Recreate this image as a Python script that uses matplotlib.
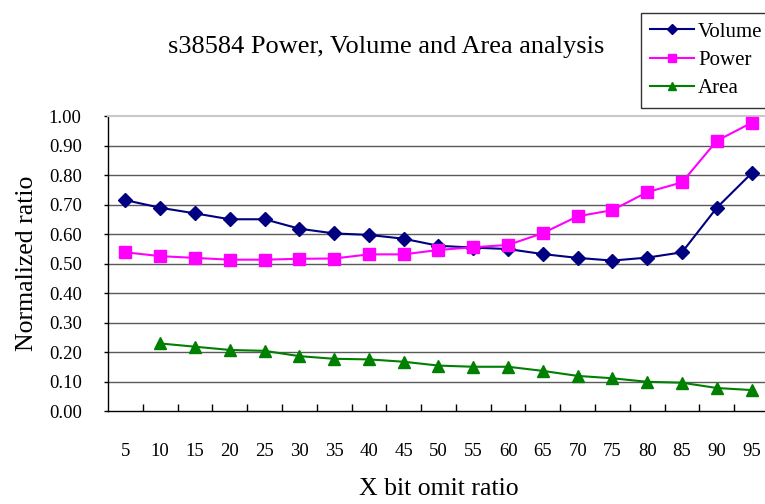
import numpy as np
import matplotlib
matplotlib.use("Agg")
import matplotlib.pyplot as plt
from matplotlib.ticker import FixedLocator, NullFormatter

categories = ["5", "10", "15", "20", "25", "30", "35", "40", "45", "50",
              "55", "60", "65", "70", "75", "80", "85", "90", "95"]
volume = [0.715, 0.689, 0.670, 0.650, 0.650, 0.618, 0.602, 0.597, 0.584, 0.560,
          0.554, 0.549, 0.532, 0.519, 0.510, 0.520, 0.538, 0.689, 0.806]
power = [0.538, 0.525, 0.519, 0.513, 0.513, 0.516, 0.517, 0.531, 0.531, 0.546,
         0.555, 0.563, 0.603, 0.660, 0.681, 0.742, 0.775, 0.916, 0.977]
area = [np.nan, 0.229, 0.218, 0.207, 0.204, 0.186, 0.177, 0.175, 0.167, 0.154,
        0.150, 0.150, 0.136, 0.119, 0.111, 0.099, 0.096, 0.078, 0.071]
ytick_labels = ["0.00", "0.10", "0.20", "0.30", "0.40", "0.50",
                "0.60", "0.70", "0.80", "0.90", "1.00"]

plt.rcParams['font.family'] = ['Liberation Serif', 'DejaVu Serif']

fig = plt.figure(figsize=(7.65, 5.04), dpi=100)
ax = fig.add_axes([0.1412, 0.1845, 0.8640, 0.5853])

n = len(categories)
x = np.arange(n) + 0.5

ax.plot(x, volume, color='#000080', marker='D', markersize=7, lw=1.5, label='Volume', clip_on=False, zorder=3)
ax.plot(x, power, color='#FF00FF', marker='s', markersize=8, lw=1.5, label='Power', clip_on=False, zorder=3)
ax.plot(x, area, color='#008000', marker='^', markersize=8, lw=1.5, label='Area', clip_on=False, zorder=3)

ax.set_xlim(0, n)
ax.set_ylim(0, 1.0)

yvals = [float(s) for s in ytick_labels]
ax.set_yticks(yvals)
ax.set_yticklabels(ytick_labels, fontsize=13.5)
for yv in yvals[1:-1]:
    ax.axhline(yv, color='#5a5a5a', lw=1, zorder=1)

ax.xaxis.set_major_locator(FixedLocator(x))
ax.set_xticklabels(categories, fontsize=13.5)
ax.tick_params(axis='x', which='major', length=0, pad=23)
ax.xaxis.set_minor_locator(FixedLocator(np.arange(1, n)))
ax.xaxis.set_minor_formatter(NullFormatter())
ax.tick_params(axis='x', which='minor', direction='in', length=5, width=1, color='black')
ax.tick_params(axis='y', direction='out', length=3, width=1, pad=16)

for s in ['left', 'bottom']:
    ax.spines[s].set_color('black')
    ax.spines[s].set_linewidth(1)
ax.spines['right'].set_visible(False)
ax.spines['top'].set_color('#c8c8c8')
ax.spines['top'].set_linewidth(1.5)

ax.set_ylabel('Normalized ratio', fontsize=18.5, labelpad=8)
ax.set_xlabel('X bit omit ratio', fontsize=18.5, labelpad=13)
fig.text(0.505, 0.907, 's38584 Power, Volume and Area analysis', fontsize=19,
         ha='center', va='center')

leg = fig.legend(loc='upper left', bbox_to_anchor=(0.8375, 0.975), fontsize=15,
                 frameon=True, fancybox=False, edgecolor='black',
                 borderpad=0.45, labelspacing=0.42, handlelength=2.1,
                 handletextpad=0.2, borderaxespad=0, markerscale=0.8)
leg.get_frame().set_linewidth(1)

fig.savefig('out.png', dpi=100, facecolor='white')
